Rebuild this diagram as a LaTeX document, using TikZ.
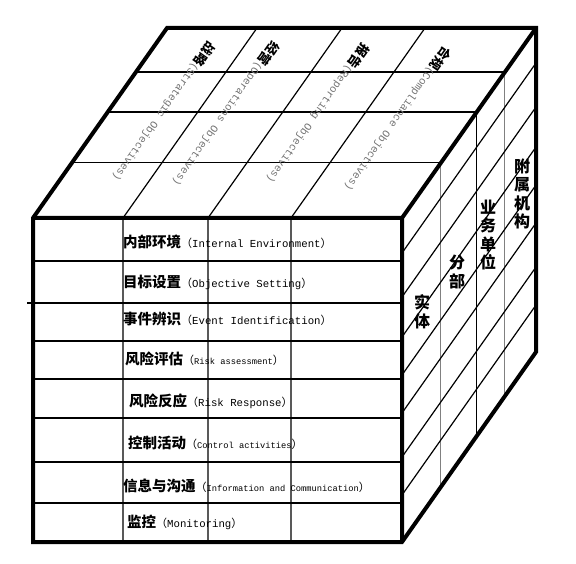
\documentclass[tikz,border=0pt]{standalone}
\usepackage{fontspec}
\setmonofont{Liberation Mono}
\newfontfamily\cjk{Noto Sans CJK SC}
\usetikzlibrary{calc}

\newcommand{\cnrow}[3]{{\cjk\bfseries\fontsize{14.5}{16}\selectfont #1}{\cjk\fontsize{11}{12}\selectfont （}{\ttfamily\fontsize{#3}{12}\selectfont #2}{\cjk\fontsize{11}{12}\selectfont ）}}
\newcommand{\cntop}[2]{{\cjk\bfseries\fontsize{13}{14}\selectfont #1}{\ttfamily\fontsize{10.7}{12}\selectfont\color{black!55}#2}}

\tikzset{
	edge/.style={line width=4pt},
	grid/.style={line width=1.2pt},
	faint/.style={line width=0.9pt},
	rowtext/.style={anchor=west, inner sep=0pt},
	toptext/.style={rotate=-125, inner sep=0pt},
	sidetext/.style={align=center, inner sep=0pt, font=\cjk\bfseries\fontsize{16}{18.5}\selectfont}
}

\begin{document}
\begin{tikzpicture}[x=1pt, y=-1pt]
	\useasboundingbox (0,0) rectangle (576,564);
	
	\coordinate (A) at (33,218);
	\coordinate (B) at (402,218);
	\coordinate (C) at (402,542);
	\coordinate (D) at (33,542);
	\coordinate (E) at (167,28);
	\coordinate (F) at (536,28);
	\coordinate (G) at (536,352);
	
	% front face and top face columns
	\foreach \x in {123,208,291}
		\draw[grid] (\x+134,28) -- (\x,218) -- (\x,542);
	\foreach \y in {261,341,379,418,462,503}
		\draw[grid] (33,\y) -- (402,\y);
	\draw[grid] (27,303) -- (402,303);
	
	% depth layers
	\foreach \d in {0.29,0.558,0.768}
		\draw[grid] ($(A)!\d!(E)$) -- ($(B)!\d!(F)$);
	\foreach \d/\c in {0.29/gray,0.558/black,0.768/gray}
		\draw[faint, \c] ($(B)!\d!(F)$) -- ($(C)!\d!(G)$);
	\foreach \y in {253,297,337,375,413,457,495}
		\draw[grid] (402,\y) -- ++(134,-190);
	
	\draw[edge] (E) -- (F) -- (G) -- (C) -- (D) -- (A) -- cycle;
	\draw[edge] (A) -- (B) -- (C) (B) -- (F);
	
	\node[rowtext] (env) at (123,242) {\cnrow{内部环境}{Internal Environment}{10.7}};
	\node[rowtext] (obj) at (123,282) {\cnrow{目标设置}{Objective Setting}{10.7}};
	\node[rowtext] (evt) at (123,319) {\cnrow{事件辨识}{Event Identification}{10.7}};
	\node[rowtext] (ass) at (125,359) {\cnrow{风险评估}{Risk assessment}{8.75}};
	\node[rowtext] (rsp) at (129,401) {\cnrow{风险反应}{Risk Response}{10.7}};
	\node[rowtext] (act) at (128,443) {\cnrow{控制活动}{Control activities}{8.75}};
	\node[rowtext] (inf) at (123,486) {\cnrow{信息与沟通}{Information and Communication}{8.75}};
	\node[rowtext] (mon) at (127,522) {\cnrow{监控}{Monitoring}{10.7}};
	
	\node[toptext] (strat) at (164,112) {\cntop{战略}{(Strategic Objectives)}};
	\node[toptext] (oper) at (226,114) {\cntop{经营}{(Operations Objectives)}};
	\node[toptext] (repo) at (318,114) {\cntop{报告}{(Reporting Objectives)}};
	\node[toptext] (comp) at (398,119) {\cntop{合规}{(Compliance Objectives)}};
	
	\node[sidetext] (entity) at (422,312) {实\\体};
	\node[sidetext] (branch) at (457,272) {分\\部};
	\node[sidetext] (unit) at (488,235) {业\\务\\单\\位};
	\node[sidetext] (subs) at (522,194) {附\\属\\机\\构};
\end{tikzpicture}
\end{document}
